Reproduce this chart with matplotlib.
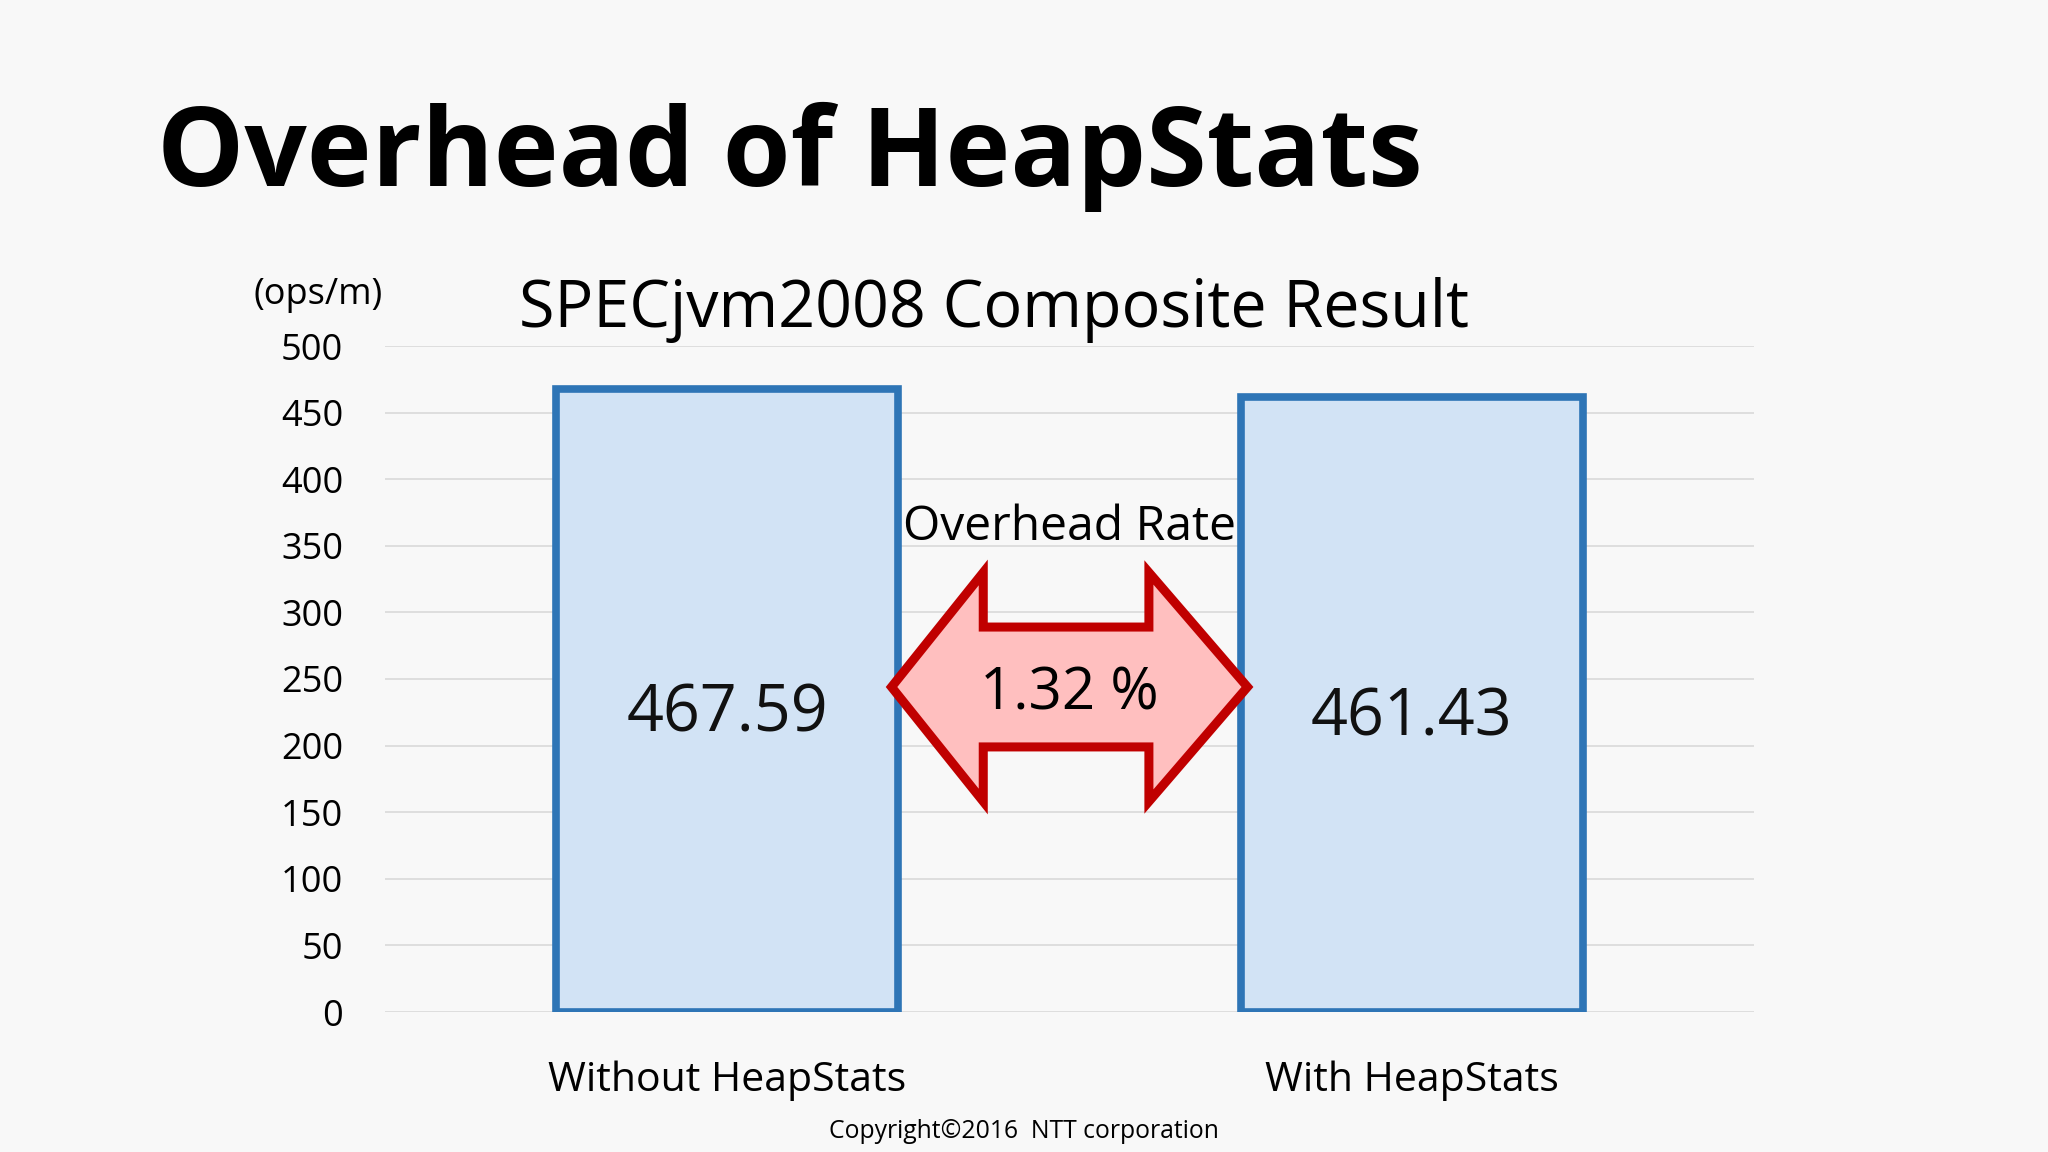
import numpy as np
import matplotlib.pyplot as plt
from matplotlib.patches import Polygon

plt.rcParams['font.family'] = ['Open Sans', 'DejaVu Sans']

# data
categories = ['Without HeapStats', 'With HeapStats']
values = [467.59, 461.43]
value_labels = ['467.59', '461.43']
yticks = [0, 50, 100, 150, 200, 250, 300, 350, 400, 450, 500]
overhead = '1.32 %'

bg = '#F8F8F8'
fig = plt.figure(figsize=(20.48, 11.52), dpi=100, facecolor=bg)
ax = fig.add_axes([385 / 2048, 1 - 1012 / 1152, (1754 - 385) / 2048, (1012 - 346) / 1152])
ax.set_facecolor(bg)

x = np.arange(len(categories))
bars = ax.bar(x, values, width=0.5, color='#D2E3F5', edgecolor='#2E75B6', linewidth=5.5, zorder=3)
for xi, v, lab in zip(x, values, value_labels):
    ax.annotate(lab, (xi, v / 2), xytext=(0, -22), textcoords='offset points',
                ha='center', va='baseline', fontsize=46.5, color='#111111', zorder=5)

ax.set_xlim(-0.5, 1.5)
ax.set_ylim(0, 500)
ax.set_yticks(yticks)
ax.set_xticks(x)
ax.set_xticklabels(categories, fontsize=29.5)
ax.tick_params(axis='y', length=0, pad=30, labelsize=26)
ax.tick_params(axis='x', length=0, pad=35)
for s in ax.spines.values():
    s.set_visible(False)
ax.grid(axis='y', color='#D9D9D9', linewidth=1.2, zorder=0)

# double arrow between the bars
w = 0.5
xl, xr = x[0] + w / 2 - 0.01, x[1] - w / 2 + 0.01
hl, hr = 0.374, 0.616
yc, hh, sh = 244, 86, 45
pts = [(xl, yc), (hl, yc + hh), (hl, yc + sh), (hr, yc + sh), (hr, yc + hh), (xr, yc),
       (hr, yc - hh), (hr, yc - sh), (hl, yc - sh), (hl, yc - hh)]
arrow = Polygon(pts, closed=True, facecolor='#FFBFBF', edgecolor='#C00000', linewidth=6.5,
                joinstyle='miter', zorder=4, clip_on=False)
ax.add_patch(arrow)
ax.text(0.5, 227, overhead, ha='center', va='baseline', fontsize=42, zorder=5)
ax.text(0.5, 354, 'Overhead Rate', ha='center', va='baseline', fontsize=34.6, zorder=5)

fig.text(157 / 2048, 1 - 186 / 1152, 'Overhead of HeapStats', fontsize=79, fontweight='bold',
         va='baseline', ha='left')
fig.text(994 / 2048, 1 - 327 / 1152, 'SPECjvm2008 Composite Result', fontsize=46.5,
         va='baseline', ha='center')
fig.text(318 / 2048, 1 - 295 / 1152, '(ops/m)', fontsize=26, va='center', ha='center')
fig.text(1024 / 2048, 1 - 1138 / 1152, 'Copyright\u00a92016  NTT corporation', fontsize=17.8,
         va='baseline', ha='center')

fig.savefig('out.png', dpi=100, facecolor=bg)
